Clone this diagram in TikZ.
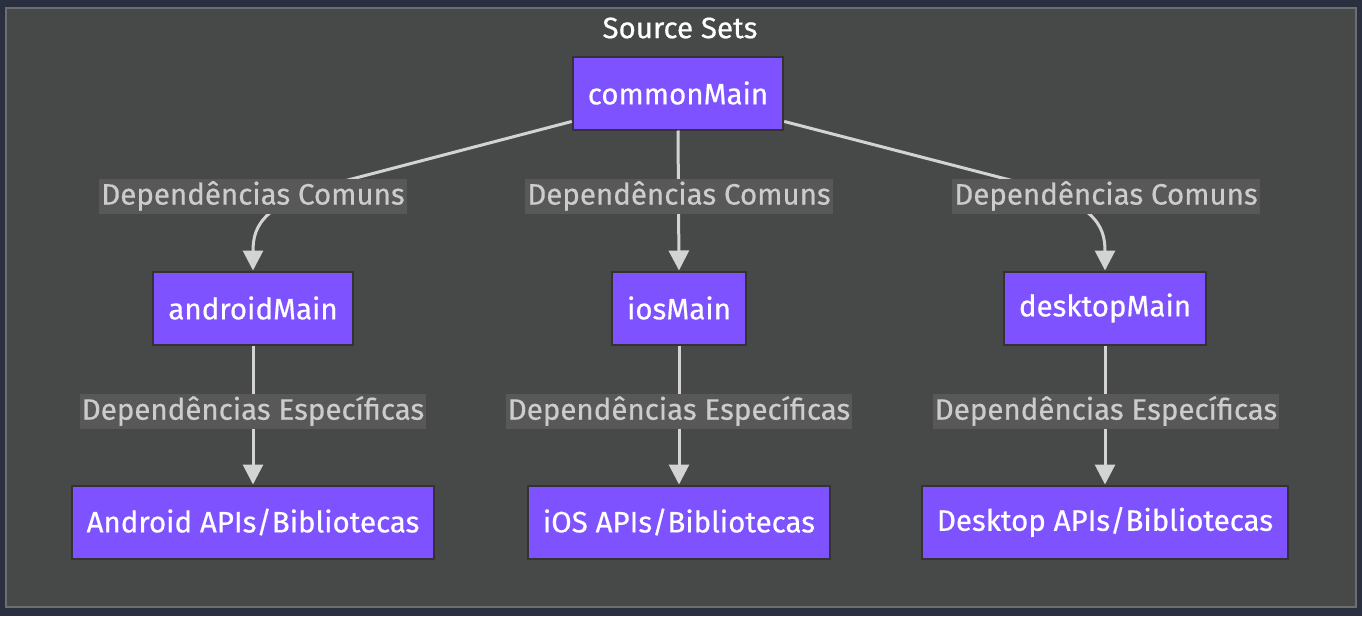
\documentclass[tikz,border=0pt]{standalone}
\usepackage{fontspec}
\setmainfont{Fira Sans}[FakeBold=0.5]
\usetikzlibrary{arrows.meta}
\definecolor{pagebg}{HTML}{2A303F}
\definecolor{setbg}{HTML}{474948}
\definecolor{setline}{HTML}{6C6E70}
\definecolor{kotlin}{HTML}{7F52FF}
\definecolor{nodeline}{HTML}{333333}
\definecolor{wire}{HTML}{D3D3D3}
\definecolor{lblbg}{HTML}{585858}
\definecolor{lbltext}{HTML}{CCCCCC}
\tikzset{>={Triangle[length=20pt,width=20pt]},
  srcset/.style={draw=nodeline, line width=2pt, fill=kotlin, text=white,
    font=\fontsize{29.5}{34}\selectfont, inner xsep=15pt, minimum height=73pt},
  dep/.style={->, draw=wire, line width=3pt},
  deplabel/.style={fill=lblbg, text=lbltext, font=\fontsize{29.5}{34}\selectfont,
    inner sep=2pt, minimum height=35pt}}

\begin{document}
\begin{tikzpicture}[x=1pt, y=-1pt]
\fill[pagebg] (0,0) rectangle (1362,616);
\useasboundingbox (0,0) rectangle (1362,616);
\draw[setline, fill=setbg, line width=2pt] (6,8) rectangle (1356,607);
\node[text=white, font=\fontsize{29.5}{34}\selectfont] (title) at (680,28) {Source Sets};
\node[srcset] (common) at (678,93) {commonMain};
\node[srcset] (android) at (253,308) {androidMain};
\node[srcset] (ios) at (679,308) {iosMain};
\node[srcset] (desktop) at (1105,308) {desktopMain};
\node[srcset] (androidlib) at (253,522) {Android APIs/Bibliotecas};
\node[srcset] (ioslib) at (679,522) {iOS APIs/Bibliotecas};
\node[srcset] (desktoplib) at (1105,522) {Desktop APIs/Bibliotecas};
\draw[dep] (common.195) -- (348,180) .. controls (263,202) and (253,225) .. (android.north);
\draw[dep] (common.south) -- (ios.north);
\draw[dep] (common.345) -- (1010,180) .. controls (1095,202) and (1105,225) .. (desktop.north);
\draw[dep] (android) -- (androidlib);
\draw[dep] (ios) -- (ioslib);
\draw[dep] (desktop) -- (desktoplib);
\node[deplabel] (androiddep) at (253,196) {Dependências Comuns};
\node[deplabel] (iosdep) at (679,196) {Dependências Comuns};
\node[deplabel] (desktopdep) at (1106,196) {Dependências Comuns};
\node[deplabel] (androidspec) at (253,411) {Dependências Específicas};
\node[deplabel] (iosspec) at (679,411) {Dependências Específicas};
\node[deplabel] (desktopspec) at (1106,411) {Dependências Específicas};
\end{tikzpicture}
\end{document}
